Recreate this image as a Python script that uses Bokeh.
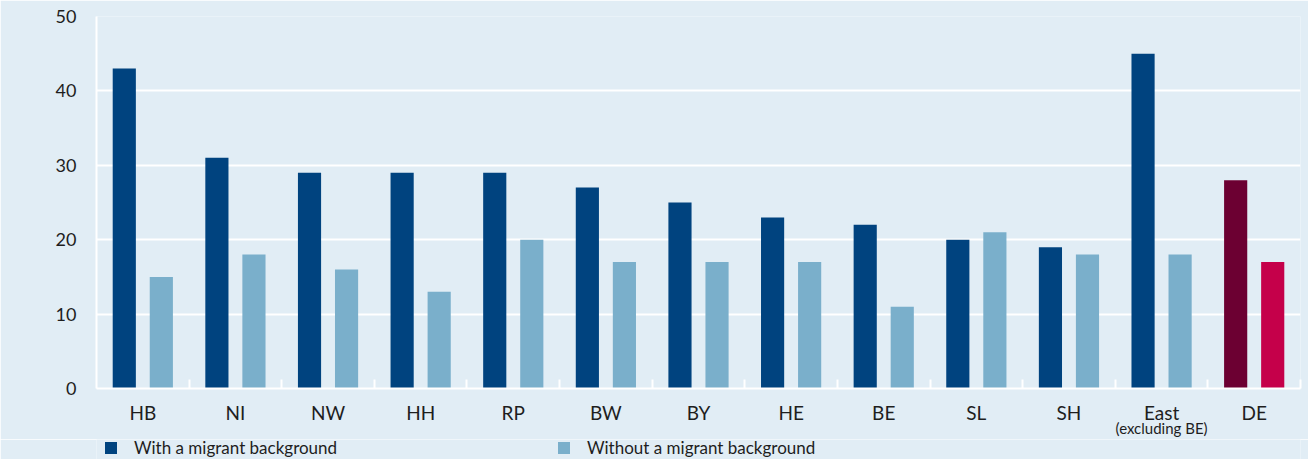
import numpy as np
from bokeh.plotting import figure
from bokeh.layouts import column
from bokeh.models import ColumnDataSource, FixedTicker, Legend, LegendItem, LinearAxis
from bokeh.transform import dodge
from bokeh.embed import file_html
from bokeh.resources import INLINE

categories = ["HB", "NI", "NW", "HH", "RP", "BW", "BY", "HE", "BE", "SL", "SH", "East", "DE"]
with_migrant = [43, 31, 29, 29, 29, 27, 25, 23, 22, 20, 19, 45, 28]
without_migrant = [15, 18, 16, 13, 20, 17, 17, 17, 11, 21, 18, 18, 17]
y_ticks = [0, 10, 20, 30, 40, 50]
east_note = "(excluding BE)"
series_names = ["With a migrant background", "Without a migrant background"]

BG = "#E1EDF5"
DARK = "#00437F"
LIGHT = "#7AAFCB"
DE_DARK = "#6C0032"
DE_LIGHT = "#C5004A"
TXT = "#1E1E1E"
FONT = "Lato"

n = len(categories)
c_with = [DARK] * (n - 1) + [DE_DARK]
c_without = [LIGHT] * (n - 1) + [DE_LIGHT]

src = ColumnDataSource(dict(x=list(range(n)), w=with_migrant, wo=without_migrant,
                            cw=c_with, cwo=c_without))

p = figure(width=1308, height=441, output_backend="svg", toolbar_location=None,
           x_range=(-0.5, n - 0.5), y_range=(0, 50),
           frame_width=1204, frame_height=372,
           min_border_left=96, min_border_right=8, min_border_top=16, min_border_bottom=0)
p.background_fill_color = BG
p.border_fill_color = BG
p.outline_line_color = None

p.vbar(x=dodge("x", -0.2), top="w", width=0.25, fill_color="cw", line_color=None, source=src)
p.vbar(x=dodge("x", 0.2), top="wo", width=0.25, fill_color="cwo", line_color=None, source=src)

# y axis
p.yaxis.ticker = FixedTicker(ticks=y_ticks)
p.yaxis.axis_line_color = "white"
p.yaxis.axis_line_width = 2
p.yaxis.major_tick_line_color = None
p.yaxis.major_tick_out = 0
p.yaxis.major_tick_in = 0
p.yaxis.minor_tick_line_color = None
p.yaxis.major_label_standoff = 20
p.yaxis.major_label_text_font = FONT
p.yaxis.major_label_text_font_size = "18px"
p.yaxis.major_label_text_color = TXT
p.ygrid.grid_line_color = "white"
p.ygrid.grid_line_width = 2
p.xgrid.grid_line_color = None

# x axis
p.xaxis.ticker = FixedTicker(ticks=list(range(n)), minor_ticks=[i + 0.5 for i in range(n)])
p.xaxis.major_label_overrides = {i: lab for i, lab in enumerate(categories)}
p.xaxis.axis_line_color = "white"
p.xaxis.axis_line_width = 2
p.xaxis.major_tick_line_color = None
p.xaxis.major_tick_out = 0
p.xaxis.major_tick_in = 0
p.xaxis.minor_tick_line_color = "white"
p.xaxis.minor_tick_line_width = 2
p.xaxis.minor_tick_in = 9
p.xaxis.minor_tick_out = 0
p.xaxis.axis_label_standoff = 0
p.xaxis.major_label_standoff = 12
p.xaxis.major_label_text_font = FONT
p.xaxis.major_label_text_font_size = "19px"
p.xaxis.major_label_text_color = TXT

# second line under "East"
east_i = categories.index("East")
note_axis = LinearAxis(ticker=FixedTicker(ticks=[east_i]),
                       major_label_overrides={east_i: east_note},
                       axis_line_color=None, major_tick_line_color=None,
                       major_tick_out=0, major_tick_in=0,
                       minor_tick_out=0, minor_tick_in=0,
                       minor_tick_line_color=None, major_label_standoff=-8,
                       axis_label_standoff=0,
                       major_label_text_font=FONT, major_label_text_font_size="15px",
                       major_label_text_color=TXT)
p.add_layout(note_axis, "below")

# legend strip: a second figure whose frame fills it, carrying the legend
lg = figure(width=1308, height=20, output_backend="svg", toolbar_location=None,
            x_range=p.x_range, y_range=(100, 110),
            x_axis_location=None, y_axis_location=None,
            min_border_left=0, min_border_right=0, min_border_top=0, min_border_bottom=0)
lg.background_fill_color = BG
lg.border_fill_color = BG
lg.outline_line_color = None
lg.xgrid.grid_line_color = None
lg.ygrid.grid_line_color = None
l1 = lg.vbar(x=dodge("x", -0.2), top="w", width=0.25, fill_color="cw", line_color=None, source=src)
l2 = lg.vbar(x=dodge("x", 0.2), top="wo", width=0.25, fill_color="cwo", line_color=None, source=src)

legend = Legend(items=[LegendItem(label=series_names[0], renderers=[l1], index=0),
                       LegendItem(label=series_names[1], renderers=[l2], index=0)],
                orientation="horizontal", location=(7, 1),
                glyph_width=15, glyph_height=15, label_standoff=16, label_width=422, spacing=0,
                padding=0, margin=0, border_line_color=None, background_fill_alpha=0,
                label_text_font=FONT, label_text_font_size="17px", label_text_color=TXT,
                label_height=17)
lg.add_layout(legend)

layout = column(p, lg, spacing=0)
open("out.html", "w").write(file_html(layout, INLINE))
